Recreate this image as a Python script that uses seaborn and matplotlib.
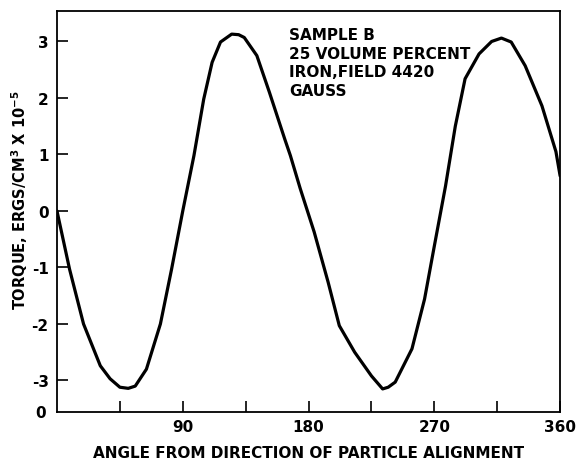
import matplotlib
matplotlib.use("Agg")
import matplotlib.pyplot as plt
import seaborn as sns
import pandas as pd

# Torque curve
angle = [0, 9, 19, 31, 38, 45, 51, 56, 64, 74, 82, 90, 98, 105, 111, 117,
         125, 130, 134, 143, 152, 163, 167, 174, 184, 194, 202, 213, 225,
         233, 237, 242, 254, 263, 270, 278, 285, 292, 302, 311, 318, 325,
         335, 347, 357, 360]
torque = [0, -1.03, -2.0, -2.74, -2.97, -3.12, -3.14, -3.1, -2.8, -2.0,
          -1.03, 0, 0.98, 1.98, 2.63, 2.99, 3.13, 3.12, 3.07, 2.75, 2.1,
          1.27, 0.98, 0.4, -0.37, -1.26, -2.03, -2.5, -2.92, -3.15, -3.12,
          -3.03, -2.44, -1.56, -0.62, 0.44, 1.5, 2.34, 2.78, 3.0, 3.06, 2.99,
          2.57, 1.86, 1.05, 0.62]

x_ticks = [45, 90, 135, 180, 225, 270, 315, 360]
x_labels = ["", "90", "", "180", "", "270", "", "360"]
y_ticks = [-3, -2, -1, 0, 1, 2, 3]

note = "SAMPLE B\n25 VOLUME PERCENT\nIRON,FIELD 4420\nGAUSS"

df = pd.DataFrame({"angle": angle, "torque": torque})

sns.set_style("ticks")
plt.rcParams["font.family"] = ["DejaVu Sans"]
plt.rcParams["font.weight"] = "bold"
plt.rcParams["text.color"] = "black"
plt.rcParams["axes.labelcolor"] = "black"
plt.rcParams["axes.unicode_minus"] = False
plt.rcParams["mathtext.default"] = "bf"

fig = plt.figure(figsize=(5.79, 4.60), dpi=100)
ax = fig.add_axes([0.0984, 0.102, 0.869, 0.872])

sns.lineplot(data=df, x="angle", y="torque", sort=False, color="black",
             linewidth=2.3, ax=ax)

ax.set_xlim(0, 360)
ax.set_ylim(-3.56, 3.54)
ax.set_xticks(x_ticks)
ax.set_xticklabels(x_labels)
ax.set_yticks(y_ticks)
ax.tick_params(direction="in", length=8, width=1.2, labelsize=11,
               colors="black")
ax.tick_params(axis="y", pad=6)
ax.tick_params(axis="x", pad=5)
for lab in ax.get_xticklabels() + ax.get_yticklabels():
    lab.set_fontweight("bold")
for s in ax.spines.values():
    s.set_linewidth(1.3)
    s.set_color("black")

ax.set_xlabel("ANGLE FROM DIRECTION OF PARTICLE ALIGNMENT", fontsize=11,
              fontweight="bold", labelpad=8)
ax.set_ylabel(r"TORQUE, ERGS/CM$^3$ X 10$^{-5}$", fontsize=10.5,
              fontweight="bold")
ax.yaxis.set_label_coords(-0.054, 0.531)

ax.text(-0.022, 0.0, "0", transform=ax.transAxes, ha="right", va="center",
        fontsize=11, fontweight="bold")
ax.text(0.462, 0.96, note, transform=ax.transAxes, ha="left", va="top",
        fontsize=11, fontweight="bold", linespacing=1.3)

fig.savefig("out.png", dpi=100)
